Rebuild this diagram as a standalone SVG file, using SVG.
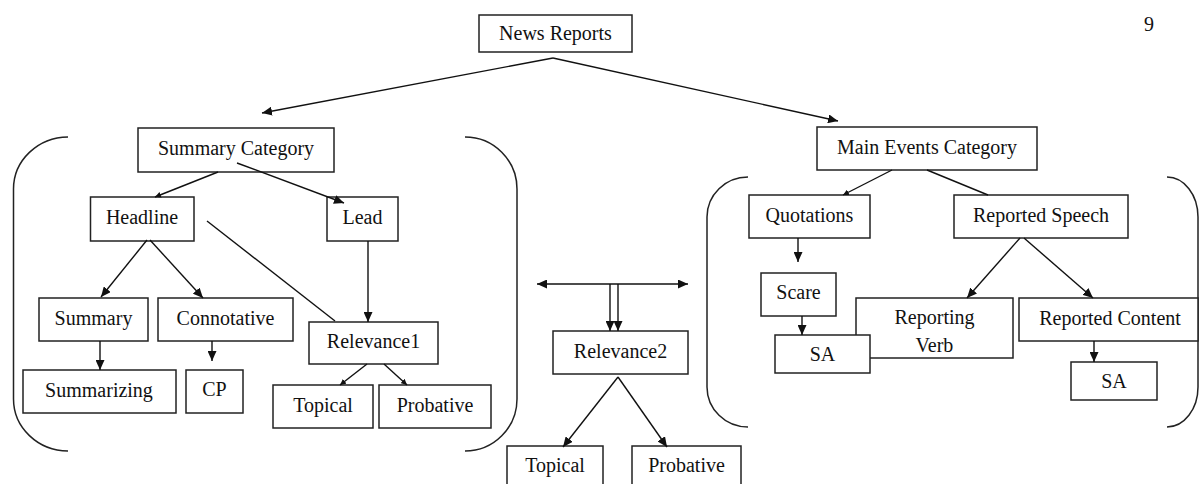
<svg xmlns="http://www.w3.org/2000/svg" width="1200" height="484" viewBox="0 0 1200 484">
<style>
  .box rect { fill: #fff; stroke: #222; stroke-width: 1.5; }
  text { font-family: "Liberation Serif", "Times New Roman", serif; font-size: 20px; fill: #111; text-anchor: middle; }
  .c path, .c line { stroke: #111; stroke-width: 1.4; fill: none; }
  .br { stroke: #222; stroke-width: 1.5; fill: none; }
</style>
<defs>
  <marker id="arr" markerUnits="userSpaceOnUse" markerWidth="11" markerHeight="9" refX="10" refY="4.5" orient="auto-start-reverse">
    <path d="M0,0 L10,4.5 L0,9 z" fill="#111"/>
  </marker>
  <marker id="arrs" markerUnits="userSpaceOnUse" markerWidth="7" markerHeight="6" refX="6" refY="3" orient="auto">
    <path d="M0,0 L6,3 L0,6 z" fill="#111"/>
  </marker>
</defs>
<rect width="1200" height="484" fill="#fff"/>

<text x="1149" y="31" font-size="21">9</text>

<g id="brackets">
  <path class="br" d="M68,137 A55,52 0 0 0 13.5,189 L13.5,399 A55,52 0 0 0 68,451"/>
  <path class="br" d="M465,137 A52,52 0 0 1 517,189 L517,399 A52,52 0 0 1 465,451"/>
  <path class="br" d="M748,177 A41,40 0 0 0 707,217 L707,387 A41,40 0 0 0 748,427"/>
  <path class="br" d="M1167,177 A31,40 0 0 1 1198,217 L1198,387 A31,40 0 0 1 1167,427"/>
</g>

<g id="news-reports" class="box"><rect x="479" y="15" width="153" height="37"/><text x="555.5" y="40">News Reports</text></g>
<g id="summary-category" class="box"><rect x="138" y="128" width="196" height="44"/><text x="236" y="155">Summary Category</text></g>
<g id="headline" class="box"><rect x="90.5" y="197" width="103.5" height="44"/><text x="142" y="224">Headline</text></g>
<g id="lead" class="box"><rect x="327" y="197" width="71" height="44"/><text x="362.5" y="224">Lead</text></g>
<g id="summary" class="box"><rect x="39" y="298" width="109" height="43"/><text x="93.5" y="324.5">Summary</text></g>
<g id="connotative" class="box"><rect x="158" y="298" width="135" height="43"/><text x="225.5" y="324.5">Connotative</text></g>
<g id="relevance1" class="box"><rect x="309" y="322" width="129" height="42"/><text x="373.5" y="348">Relevance1</text></g>
<g id="summarizing" class="box"><rect x="23" y="370" width="153" height="43"/><text x="99" y="397">Summarizing</text></g>
<g id="cp" class="box"><rect x="186" y="370" width="57" height="43"/><text x="214.5" y="396">CP</text></g>
<g id="topical1" class="box"><rect x="273" y="385" width="100" height="43"/><text x="323" y="412">Topical</text></g>
<g id="probative1" class="box"><rect x="379" y="385" width="112" height="43"/><text x="435" y="412">Probative</text></g>

<g id="relevance2" class="box"><rect x="553" y="331" width="135" height="43"/><text x="620.5" y="358">Relevance2</text></g>
<g id="topical2" class="box"><rect x="507" y="446" width="96" height="44"/><text x="555" y="472">Topical</text></g>
<g id="probative2" class="box"><rect x="632" y="446" width="109" height="44"/><text x="686.5" y="472">Probative</text></g>

<g id="main-events-category" class="box"><rect x="817" y="127" width="220" height="43"/><text x="927" y="154">Main Events Category</text></g>
<g id="quotations" class="box"><rect x="749" y="195" width="121" height="43"/><text x="809.5" y="222">Quotations</text></g>
<g id="reported-speech" class="box"><rect x="954" y="195" width="174" height="43"/><text x="1041" y="222">Reported Speech</text></g>
<g id="scare" class="box"><rect x="761" y="273" width="75" height="43"/><text x="798.5" y="299">Scare</text></g>
<g id="reporting-verb" class="box"><rect x="856" y="298" width="157" height="60"/><text x="934.5" y="324">Reporting</text><text x="934.5" y="352">Verb</text></g>
<g id="sa1" class="box"><rect x="775" y="335" width="95" height="38"/><text x="822.5" y="361">SA</text></g>
<g id="reported-content" class="box"><rect x="1019" y="298" width="179" height="43"/><text x="1110" y="325">Reported Content</text></g>
<g id="sa2" class="box"><rect x="1071" y="362" width="86" height="38"/><text x="1114" y="388">SA</text></g>

<g id="connectors" class="c">
  <line x1="553" y1="58" x2="262" y2="113" marker-end="url(#arr)"/>
  <line x1="553" y1="58" x2="838" y2="121" marker-end="url(#arr)"/>
  <line x1="218" y1="172" x2="155" y2="197" marker-end="url(#arrs)"/>
  <line x1="237" y1="163" x2="344" y2="203" marker-end="url(#arr)"/>
  <line x1="207" y1="221" x2="335" y2="321"/>
  <line x1="368" y1="241" x2="368" y2="322" marker-end="url(#arr)"/>
  <line x1="147" y1="240" x2="101" y2="297" marker-end="url(#arr)"/>
  <line x1="150" y1="240" x2="203" y2="298" marker-end="url(#arr)"/>
  <line x1="100" y1="341" x2="100" y2="370" marker-end="url(#arr)"/>
  <line x1="212" y1="341" x2="212" y2="361" marker-end="url(#arr)"/>
  <line x1="367" y1="364" x2="340" y2="385" marker-end="url(#arrs)"/>
  <line x1="384" y1="364" x2="407" y2="385" marker-end="url(#arrs)"/>
  <line x1="892" y1="170" x2="843" y2="195" marker-end="url(#arrs)"/>
  <line x1="927" y1="170" x2="988" y2="195"/>
  <line x1="798" y1="238" x2="798" y2="262" marker-end="url(#arr)"/>
  <line x1="802" y1="316" x2="802" y2="335" marker-end="url(#arr)"/>
  <line x1="1020" y1="238" x2="967" y2="298" marker-end="url(#arr)"/>
  <line x1="1024" y1="238" x2="1093" y2="298" marker-end="url(#arr)"/>
  <line x1="1094" y1="341" x2="1094" y2="362" marker-end="url(#arr)"/>
  <line x1="537" y1="284" x2="688" y2="284" marker-start="url(#arr)" marker-end="url(#arr)"/>
  <line x1="610" y1="284" x2="610" y2="331" marker-end="url(#arr)"/>
  <line x1="618" y1="284" x2="618" y2="331" marker-end="url(#arr)"/>
  <line x1="618" y1="377" x2="563" y2="447" marker-end="url(#arr)"/>
  <line x1="618" y1="377" x2="667" y2="447" marker-end="url(#arr)"/>
</g>
</svg>
